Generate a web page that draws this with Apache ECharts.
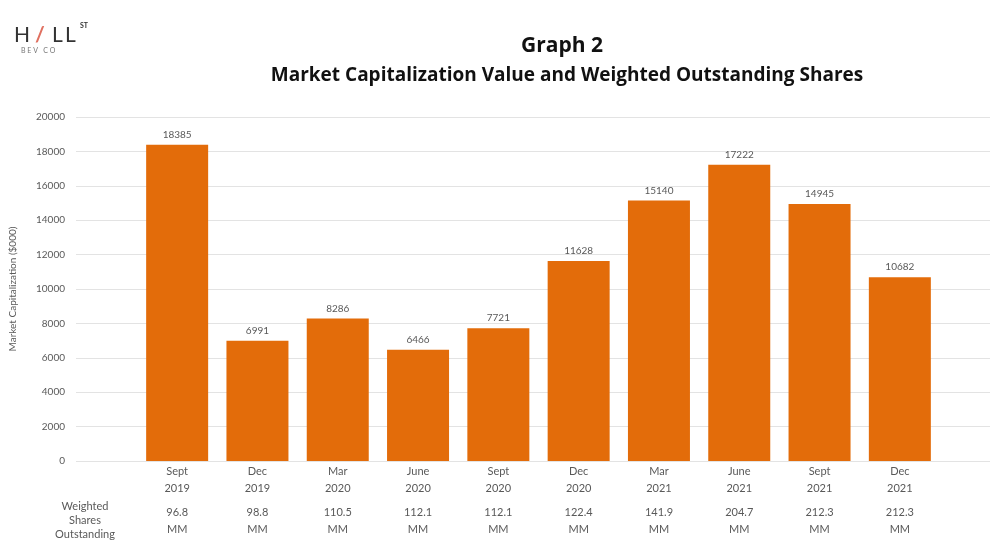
<!DOCTYPE html>
<html>
<head>
<meta charset="utf-8">
<script src="https://cdn.jsdelivr.net/npm/echarts@6/dist/echarts.min.js"></script>
<style>
  html, body { margin: 0; padding: 0; background: #fff; }
  #chart { width: 990px; height: 541px; }
</style>
</head>
<body>
<div id="chart"></div>
<script>
// quarters on the x axis
var periods = ["Sept 2019", "Dec 2019", "Mar 2020", "June 2020", "Sept 2020",
  "Dec 2020", "Mar 2021", "June 2021", "Sept 2021", "Dec 2021"];
// market capitalization ($000)
var marketCap = [18385, 6991, 8286, 6466, 7721, 11628, 15140, 17222, 14945, 10682];
// weighted outstanding shares (MM)
var sharesMM = [96.8, 98.8, 110.5, 112.1, 112.1, 122.4, 141.9, 204.7, 212.3, 212.3];
// y axis ticks
var yMin = 0, yMax = 20000, yStep = 2000;

var font = "Lato, 'Open Sans', sans-serif";
var titleFont = "'Open Sans', sans-serif";
var grey = "#595959";

var chart = echarts.init(document.getElementById("chart"));
chart.setOption({
  animation: false,
  textStyle: { fontFamily: font },
  title: [
    {
      text: "Graph 2",
      left: 557, top: 31, textAlign: "center",
      textStyle: { fontSize: 21, fontWeight: "bold", color: "#111", fontFamily: titleFont }
    },
    {
      text: "Market Capitalization Value and Weighted Outstanding Shares",
      left: 562, top: 61, textAlign: "center",
      textStyle: { fontSize: 19, fontWeight: "bold", color: "#111", fontFamily: titleFont }
    }
  ],
  graphic: [
    // logo
    { type: "text", x: 14, y: 25, style: { text: "H", fontSize: 21, fill: "#333", fontFamily: font } },
    { type: "text", x: 35, y: 25, style: { text: "/", fontSize: 21, fontWeight: "bold", fill: "#e07060", fontFamily: font } },
    { type: "text", x: 52, y: 25, style: { text: "L", fontSize: 21, fill: "#333", fontFamily: font } },
    { type: "text", x: 65, y: 25, style: { text: "L", fontSize: 21, fill: "#333", fontFamily: font } },
    { type: "text", x: 80, y: 22, style: { text: "ST", fontSize: 7, fontWeight: "bold", fill: "#333", fontFamily: font } },
    { type: "text", x: 21, y: 47, style: { text: "B E V   C O", fontSize: 7, fill: "#777", fontFamily: font } },
    // table row header
    {
      type: "text", x: 85, y: 499,
      style: {
        text: "Weighted\nShares\nOutstanding",
        fontSize: 11, lineHeight: 14, fill: grey, align: "center", fontFamily: font
      }
    }
  ],
  grid: [
    { left: 75, right: 0, top: 117, bottom: 80 },
    { left: 137, right: 50, top: 117, bottom: 80 }
  ],
  xAxis: [
    { type: "value", gridIndex: 0, show: false },
    {
      type: "category", gridIndex: 1, data: periods,
      axisLine: { show: false }, axisTick: { show: false },
      axisLabel: {
        margin: 2, fontSize: 11, lineHeight: 17, color: grey, interval: 0,
        formatter: function (v) { return v.replace(" ", "\n"); }
      }
    },
    {
      type: "category", gridIndex: 1, data: periods, position: "bottom", offset: 41,
      axisLine: { show: false }, axisTick: { show: false },
      axisLabel: {
        margin: 2, fontSize: 11, lineHeight: 17, color: grey, interval: 0,
        formatter: function (v, i) { return sharesMM[i].toFixed(1) + "\nMM"; }
      }
    }
  ],
  yAxis: [
    {
      type: "value", gridIndex: 0, min: yMin, max: yMax, interval: yStep,
      axisLine: { show: false }, axisTick: { show: false },
      axisLabel: { margin: 11, fontSize: 10, color: grey, formatter: function (v) { return String(v); } },
      splitLine: { lineStyle: { color: "#e3e3e3", width: 1 } },
      name: "Market Capitalization ($000)",
      nameLocation: "middle", nameGap: 58, nameRotate: 90,
      nameTextStyle: { fontSize: 10, color: grey }
    },
    {
      type: "value", gridIndex: 1, min: yMin, max: yMax, interval: yStep, show: false
    }
  ],
  series: [
    {
      type: "bar", xAxisIndex: 1, yAxisIndex: 1,
      data: marketCap, barWidth: 62,
      itemStyle: { color: "#e36c0a" },
      label: { show: true, position: "top", distance: 5, fontSize: 10, color: grey }
    }
  ]
});
</script>
</body>
</html>
